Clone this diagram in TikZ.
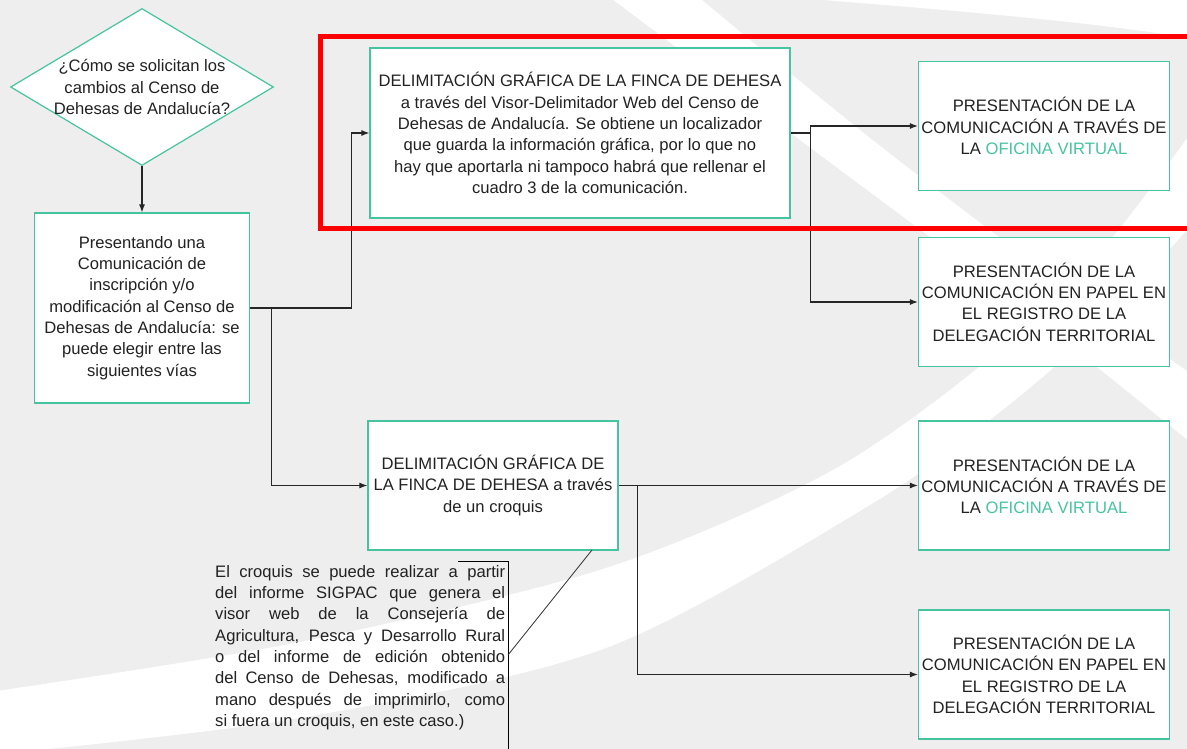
\documentclass[tikz,border=0pt]{standalone}
\usepackage{fontspec}
\setmainfont{Liberation Sans}
\usetikzlibrary{shapes.geometric,arrows.meta}
\definecolor{fondo}{RGB}{238,238,238}
\definecolor{verde}{RGB}{70,196,160}
\definecolor{texto}{RGB}{34,34,34}
\newcommand{\letra}{\fontsize{16.6}{21.3}\selectfont}
\begin{document}
\begin{tikzpicture}[x=1pt,y=-1pt,
  caja/.style={draw=verde,fill=white,line width=1.2pt,inner sep=0pt,align=center,text=texto,font=\letra},
  flecha/.style={-{Latex[length=8pt,width=6pt]},line width=1.1pt,black!85}]
\useasboundingbox (0,0) rectangle (1187,749);
\clip (0,0) rectangle (1187,749);
\fill[fondo] (0,0) rectangle (1187,749);
\fill[white] plot[smooth] coordinates {(-10,692) (300,642) (606,568) (833,470) (1000,350) (1110,240) (1200,120)}
  -- plot[smooth] coordinates {(1200,215) (1100,325) (1000,412) (870,505) (606,648) (300,718) (-10,755)} -- cycle;
\fill[white] plot[smooth] coordinates {(600,-10) (800,140) (1000,290) (1200,450)}
  -- plot[smooth] coordinates {(1200,380) (1030,260) (860,130) (690,-10)} -- cycle;
\fill[white] (760,-5) .. controls (950,10) and (1100,22) .. (1200,40) -- (1200,-5) -- cycle;

\node[caja,diamond,minimum width=263pt,minimum height=157pt] (pregunta) at (142,87) {};
\node[align=center,text=texto,font=\letra] (preguntaTxt) at (pregunta) {¿Cómo se solicitan los\\cambios al Censo de\\Dehesas de Andalucía?};
\node[caja,minimum width=215pt,minimum height=190pt] (presentando) at (142,308) {Presentando una\\Comunicación de\\inscripción y/o\\modificación al Censo de\\Dehesas de Andalucía: se\\puede elegir entre las\\siguientes vías};
\node[caja,minimum width=420pt,minimum height=170pt] (visor) at (580,133) {DELIMITACIÓN GRÁFICA DE LA FINCA DE DEHESA\\a través del Visor-Delimitador Web del Censo de\\Dehesas de Andalucía. Se obtiene un localizador\\que guarda la información gráfica, por lo que no\\hay que aportarla ni tampoco habrá que rellenar el\\cuadro 3 de la comunicación.};
\node[caja,minimum width=250pt,minimum height=129pt] (croquis) at (493,485.5) {DELIMITACIÓN GRÁFICA DE\\LA FINCA DE DEHESA a través\\de un croquis};
\foreach \n/\y in {ovUno/126,ovDos/485.5}
  \node[caja,minimum width=251pt,minimum height=129pt] (\n) at (1044,\y) {PRESENTACIÓN DE LA\\COMUNICACIÓN A TRAVÉS DE\\LA \textcolor{verde}{OFICINA VIRTUAL}};
\foreach \n/\y in {papelUno/302,papelDos/674.5}
  \node[caja,minimum width=251pt,minimum height=129pt] (\n) at (1044,\y) {PRESENTACIÓN DE LA\\COMUNICACIÓN EN PAPEL EN\\EL REGISTRO DE LA\\DELEGACIÓN TERRITORIAL};

\draw[flecha] (pregunta.south) -- (presentando.north);
\draw[flecha] (presentando.east) -- ++(101,0) |- (visor.west);
\draw[flecha] (presentando.east) ++(21,0) |- (croquis.west);
\draw[flecha] (visor.east) -- ++(20,0) |- (ovUno.west);
\draw[flecha] (visor.east) ++(20,0) |- (papelUno.west);
\draw[flecha] (croquis.east) -- (ovDos.west);
\draw[flecha] (croquis.east) ++(19,0) |- (papelDos.west);

\node[anchor=north west,text width=290pt,align=justify,inner sep=0pt,text=texto,font=\letra] (nota) at (215,565) {El croquis se puede realizar a partir\linebreak del informe SIGPAC que genera el\linebreak visor web de la Consejería de\linebreak Agricultura, Pesca y Desarrollo Rural\linebreak o del informe de edición obtenido\linebreak del Censo de Dehesas, modificado a\linebreak mano después de imprimirlo, como\linebreak si fuera un croquis, en este caso.)};
\coordinate (notaEsquina) at (458,561);
\coordinate (notaFin) at (508,760);
\coordinate (notaPunta) at (508,655);
\coordinate (pie) at (592,550);
\draw[line width=0.9pt] (notaEsquina) -| (notaFin);
\draw[line width=0.8pt,black!80] (notaPunta) -- (pie);

\draw[red,line width=5pt] (320,37) rectangle (1210,228);
\end{tikzpicture}
\end{document}
